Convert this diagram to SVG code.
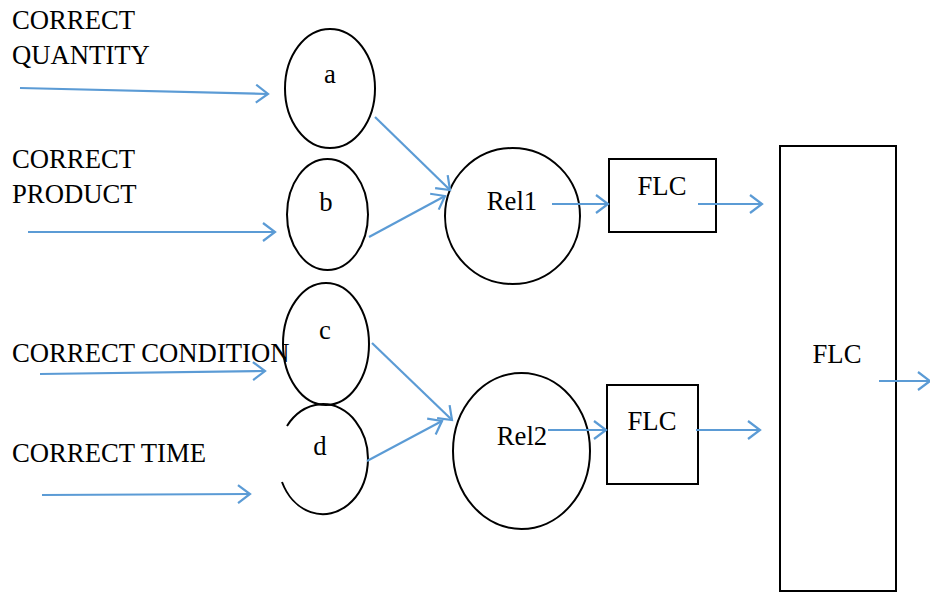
<svg xmlns="http://www.w3.org/2000/svg" width="930" height="593" viewBox="0 0 930 593">
  <style>
    .shape { fill: none; stroke: #000; stroke-width: 2; }
    .lbl { font-family: "Liberation Serif", "Times New Roman", serif; font-size: 26.7px; fill: #000; }
    .mid { text-anchor: middle; }
    .flow { stroke: #5B9BD5; stroke-width: 2.2; fill: none; marker-end: url(#open); }
  </style>
  <defs>
    <marker id="open" markerUnits="userSpaceOnUse" markerWidth="16" markerHeight="22" refX="13" refY="10" orient="auto">
      <path d="M1,1 L13,10 L1,19" fill="none" stroke="#5B9BD5" stroke-width="2.2"/>
    </marker>
  </defs>
  <rect width="930" height="593" fill="#fff"/>

  <!-- input labels -->
  <g id="inputs">
    <text class="lbl" x="12" y="29">CORRECT</text>
    <text class="lbl" x="12" y="64">QUANTITY</text>
    <text class="lbl" x="12" y="168">CORRECT</text>
    <text class="lbl" x="12" y="203">PRODUCT</text>
    <text class="lbl" x="12" y="362">CORRECT CONDITION</text>
    <text class="lbl" x="12" y="462">CORRECT TIME</text>
  </g>

  <g id="node-a">
    <ellipse class="shape" cx="330" cy="88.5" rx="45" ry="59.5"/>
    <text class="lbl mid" x="330" y="83">a</text>
  </g>
  <g id="node-b">
    <ellipse class="shape" cx="327.5" cy="214.5" rx="40.5" ry="55.5"/>
    <text class="lbl mid" x="326" y="211">b</text>
  </g>
  <g id="node-c">
    <ellipse class="shape" cx="326" cy="344" rx="43" ry="61"/>
    <text class="lbl mid" x="325" y="339">c</text>
  </g>
  <g id="node-d">
    <!-- open arc: gap on the left side -->
    <path class="shape" d="M287,426 A45,55 0 1 1 282,482"/>
    <text class="lbl mid" x="320" y="455">d</text>
  </g>
  <g id="node-rel1">
    <ellipse class="shape" cx="512.5" cy="216" rx="67.5" ry="68"/>
    <text class="lbl mid" x="512" y="210">Rel1</text>
  </g>
  <g id="node-rel2">
    <ellipse class="shape" cx="521.5" cy="451" rx="68.5" ry="78"/>
    <text class="lbl mid" x="522" y="445">Rel2</text>
  </g>
  <g id="node-flc1">
    <rect class="shape" x="609" y="159" width="107" height="73"/>
    <text class="lbl mid" x="662" y="195">FLC</text>
  </g>
  <g id="node-flc2">
    <rect class="shape" x="607" y="385" width="91" height="99"/>
    <text class="lbl mid" x="652" y="430">FLC</text>
  </g>
  <g id="node-flc-main">
    <rect class="shape" x="780" y="146" width="116" height="445"/>
    <text class="lbl mid" x="837" y="363">FLC</text>
  </g>

  <g id="connectors">
    <line class="flow" x1="20" y1="88" x2="268" y2="94"/>
    <line class="flow" x1="28" y1="232" x2="275" y2="232"/>
    <line class="flow" x1="40" y1="374" x2="265" y2="371"/>
    <line class="flow" x1="42" y1="495" x2="250" y2="494"/>
    <line class="flow" x1="375" y1="117" x2="450" y2="190"/>
    <line class="flow" x1="369" y1="237" x2="445" y2="196"/>
    <line class="flow" x1="372" y1="343" x2="452" y2="420"/>
    <line class="flow" x1="367" y1="461" x2="442" y2="421"/>
    <line class="flow" x1="552" y1="204" x2="608" y2="204"/>
    <line class="flow" x1="698" y1="204" x2="762" y2="204"/>
    <line class="flow" x1="548" y1="430" x2="606" y2="430"/>
    <line class="flow" x1="696" y1="430" x2="760" y2="430"/>
    <line class="flow" x1="879" y1="381" x2="930" y2="381"/>
  </g>
</svg>
